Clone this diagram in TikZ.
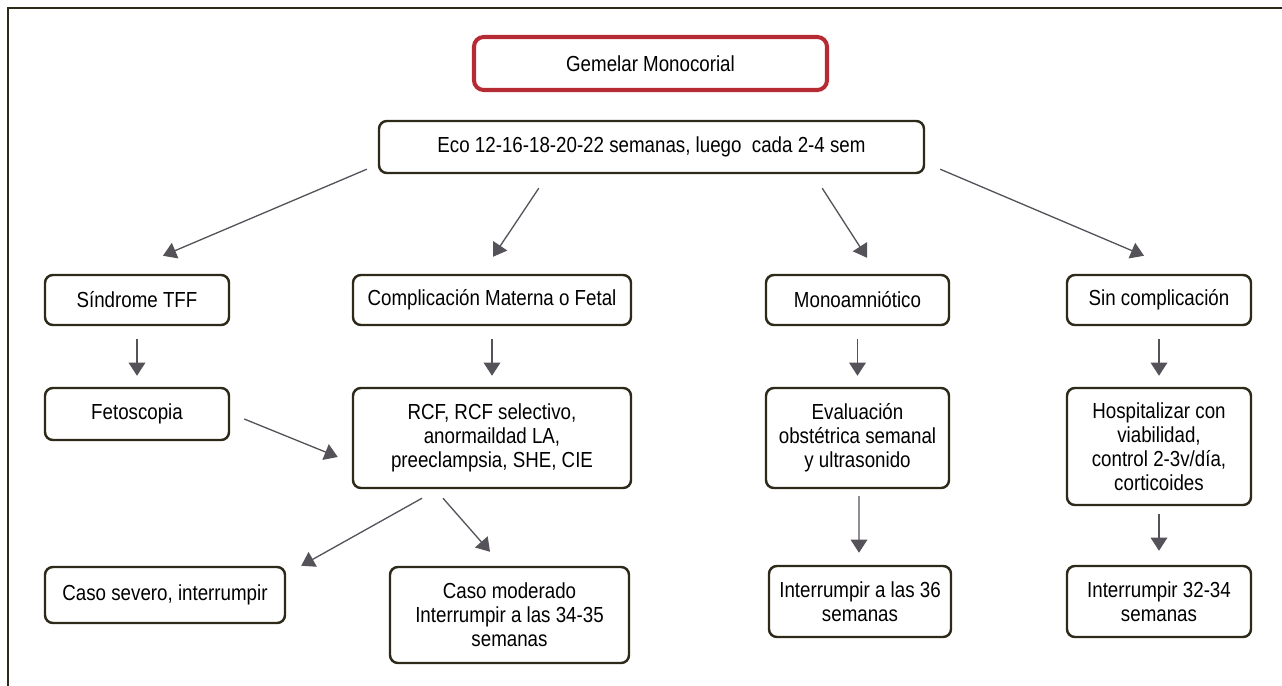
\documentclass[tikz,border=0pt]{standalone}
\usepackage{fontspec}
\setmainfont{Liberation Sans}[FakeStretch=0.86]
\usetikzlibrary{arrows.meta,calc}
\definecolor{boxline}{RGB}{45,42,25}
\definecolor{titlered}{RGB}{182,42,52}
\definecolor{arrowgray}{RGB}{85,82,90}

\begin{document}
\begin{tikzpicture}[x=0.02cm,y=-0.02cm,font=\fontsize{12.4}{13.6}\selectfont]
    \tikzstyle{box}=[draw=boxline,line width=1.4pt,rounded corners=4.5pt,align=center,inner sep=2pt]
    \tikzstyle{title}=[box,draw=titlered,line width=2.3pt,rounded corners=5.5pt]
    \tikzstyle{arr}=[arrowgray,line width=0.75pt,-{Triangle[length=7.5pt,width=9.5pt]}]
    \tikzset{dims/.style 2 args={minimum width=#1*0.02cm,minimum height=#2*0.02cm}}
    \useasboundingbox (0,0) rectangle (1282,686);
    \draw[boxline,line width=0.9pt] (8,686) -- (8,8) -- (1282,8);

    \node[title,dims={353}{53}] (gemelar) at (650.5,63.5) {Gemelar Monocorial};
    \node[box,dims={545}{52}] (eco) at (651.5,147) {Eco 12-16-18-20-22 semanas, luego\ \ cada 2-4 sem};

    \node[box,dims={184}{50}] (tff)  at (137,300)   {Síndrome TFF};
    \node[box,dims={278}{50}] (comp) at (492,300)   {Complicación Materna o Fetal};
    \node[box,dims={183}{50}] (mono) at (857.5,300) {Monoamniótico};
    \node[box,dims={184}{50}] (sinc) at (1159,300)  {Sin complicación};

    \node[box,dims={184}{52}]  (feto) at (137,414)    {Fetoscopia};
    \node[box,dims={278}{100}] (rcf)  at (492,438)    {RCF, RCF selectivo,\\anormaildad LA,\\preeclampsia, SHE, CIE};
    \node[box,dims={183}{100}] (eval) at (857.5,438)  {Evaluación\\obstétrica semanal\\y ultrasonido};
    \node[box,dims={184}{117}] (hosp) at (1159,446.5) {Hospitalizar con\\viabilidad,\\control 2-3v/día,\\corticoides};

    \node[box,dims={240}{56}] (severo)   at (165,595)    {Caso severo, interrumpir};
    \node[box,dims={239}{96}] (moderado) at (509.5,615)  {Caso moderado\\Interrumpir a las 34-35\\semanas};
    \node[box,dims={182}{71}] (int36)    at (860,601.5)  {Interrumpir a las 36\\semanas};
    \node[box,dims={184}{71}] (int3234)  at (1159,601.5) {Interrumpir 32-34\\semanas};

    \draw[arr] ($(eco.south west)+(-11,-5)$) -- ($(tff.north)+(26,-18)$);
    \draw[arr] ($(eco.south west)+(161,14)$) -- ($(comp.north)+(1,-17)$);
    \draw[arr] ($(eco.south east)+(-103,14)$) -- ($(mono.north)+(9.5,-16)$);
    \draw[arr] ($(eco.south east)+(15,-5)$) -- ($(sinc.north)+(-15,-18)$);

    \draw[arr] ($(tff.south)+(0,13)$) -- ($(feto.north)+(0,-11)$);
    \draw[arr] ($(comp.south)+(0,13)$) -- ($(rcf.north)+(0,-11)$);
    \draw[arr] ($(mono.south)+(0,13)$) -- ($(eval.north)+(0,-11)$);
    \draw[arr] ($(sinc.south)+(0,13)$) -- ($(hosp.north)+(0,-11)$);

    \draw[arr] ($(feto.east)+(14,5)$) -- ($(rcf.west)+(-14,19)$);
    \draw[arr] ($(rcf.south)+(-70,9)$) -- ($(severo.north east)+(15,0)$);
    \draw[arr] ($(rcf.south)+(-49,9)$) -- ($(moderado.north)+(-19.5,-14)$);
    \draw[arr] ($(eval.south)+(1.5,7)$) -- ($(int36.north)+(-1,-12)$);
    \draw[arr] ($(hosp.south)+(0,8)$) -- ($(int3234.north)+(0,-14)$);
\end{tikzpicture}
\end{document}
